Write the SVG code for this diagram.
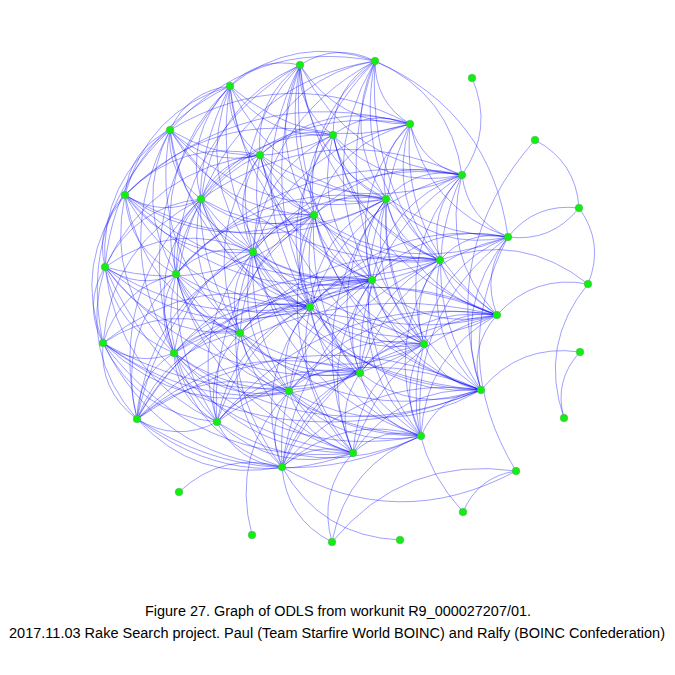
<svg xmlns="http://www.w3.org/2000/svg" width="675" height="675" viewBox="0 0 675 675">
<style>
.e{fill:none;stroke:#0000ff;stroke-opacity:0.47;stroke-width:0.8;vector-effect:non-scaling-stroke}
.n{fill:#11ee11;stroke:#55aa55;stroke-width:0.5}
.cap{font-family:"Liberation Sans Narrow","Liberation Sans",Arial,sans-serif;font-size:14px;fill:#000;text-anchor:start}
</style>
<rect width="675" height="675" fill="#fff"/>
<g id="edges">
<path class="e" d="M0 0Q.5 .28 1 0" transform="matrix(-75,4,-4,-75,375,61)"/>
<path class="e" d="M0 0Q.5 .28 1 0" transform="matrix(-70,21,-21,-70,300,65)"/>
<path class="e" d="M0 0Q.5 .28 1 0" transform="matrix(33,70,-70,33,300,65)"/>
<path class="e" d="M0 0Q.5 .28 1 0" transform="matrix(-40,90,-90,-40,300,65)"/>
<path class="e" d="M0 0Q.5 .28 1 0" transform="matrix(-99,134,-134,-99,300,65)"/>
<path class="e" d="M0 0Q.5 .28 1 0" transform="matrix(86,134,-134,86,300,65)"/>
<path class="e" d="M0 0Q.5 .28 1 0" transform="matrix(14,150,-150,14,300,65)"/>
<path class="e" d="M0 0Q.5 .28 1 0" transform="matrix(-47,187,-187,-47,300,65)"/>
<path class="e" d="M0 0Q.5 .28 1 0" transform="matrix(140,195,-195,140,300,65)"/>
<path class="e" d="M0 0Q.5 .28 1 0" transform="matrix(72,215,-215,72,300,65)"/>
<path class="e" d="M0 0Q.5 .28 1 0" transform="matrix(10,242,-242,10,300,65)"/>
<path class="e" d="M0 0Q.5 .28 1 0" transform="matrix(110,59,-59,110,300,65)"/>
<path class="e" d="M0 0Q.5 .28 1 0" transform="matrix(162,110,-110,162,300,65)"/>
<path class="e" d="M0 0Q.5 .28 1 0" transform="matrix(124,279,-279,124,300,65)"/>
<path class="e" d="M0 0Q.5 .28 1 0" transform="matrix(-124,209,-209,-124,300,65)"/>
<path class="e" d="M0 0Q.5 .28 1 0" transform="matrix(60,308,-308,60,300,65)"/>
<path class="e" d="M0 0Q.5 .28 1 0" transform="matrix(35,63,-63,35,375,61)"/>
<path class="e" d="M0 0Q.5 .28 1 0" transform="matrix(-42,74,-74,-42,375,61)"/>
<path class="e" d="M0 0Q.5 .28 1 0" transform="matrix(-115,94,-94,-115,375,61)"/>
<path class="e" d="M0 0Q.5 .28 1 0" transform="matrix(-87,-114,114,-87,462,175)"/>
<path class="e" d="M0 0Q.5 .28 1 0" transform="matrix(-133,-176,176,-133,508,237)"/>
<path class="e" d="M0 0Q.5 .28 1 0" transform="matrix(-174,138,-138,-174,375,61)"/>
<path class="e" d="M0 0Q.5 .28 1 0" transform="matrix(11,138,-138,11,375,61)"/>
<path class="e" d="M0 0Q.5 .28 1 0" transform="matrix(-61,154,-154,-61,375,61)"/>
<path class="e" d="M0 0Q.5 .28 1 0" transform="matrix(-122,191,-191,-122,375,61)"/>
<path class="e" d="M0 0Q.5 .28 1 0" transform="matrix(65,199,-199,65,375,61)"/>
<path class="e" d="M0 0Q.5 .28 1 0" transform="matrix(-3,219,-219,-3,375,61)"/>
<path class="e" d="M0 0Q.5 .28 1 0" transform="matrix(122,254,-254,122,375,61)"/>
<path class="e" d="M0 0Q.5 .28 1 0" transform="matrix(-145,25,-25,-145,375,61)"/>
<path class="e" d="M0 0Q.5 .28 1 0" transform="matrix(-205,69,-69,-205,375,61)"/>
<path class="e" d="M0 0Q.5 .28 1 0" transform="matrix(-65,246,-246,-65,375,61)"/>
<path class="e" d="M0 0Q.5 .28 1 0" transform="matrix(49,283,-283,49,375,61)"/>
<path class="e" d="M0 0Q.5 .28 1 0" transform="matrix(10,-97,97,10,462,175)"/>
<path class="e" d="M0 0Q.5 .28 1 0" transform="matrix(-60,44,-44,-60,230,86)"/>
<path class="e" d="M0 0Q.5 .28 1 0" transform="matrix(30,69,-69,30,230,86)"/>
<path class="e" d="M0 0Q.5 .28 1 0" transform="matrix(-29,113,-113,-29,230,86)"/>
<path class="e" d="M0 0Q.5 .28 1 0" transform="matrix(84,129,-129,84,230,86)"/>
<path class="e" d="M0 0Q.5 .28 1 0" transform="matrix(23,166,-166,23,230,86)"/>
<path class="e" d="M0 0Q.5 .28 1 0" transform="matrix(-54,188,-188,-54,230,86)"/>
<path class="e" d="M0 0Q.5 .28 1 0" transform="matrix(103,49,-49,103,230,86)"/>
<path class="e" d="M0 0Q.5 .28 1 0" transform="matrix(156,113,-113,156,230,86)"/>
<path class="e" d="M0 0Q.5 .28 1 0" transform="matrix(-105,109,-109,-105,230,86)"/>
<path class="e" d="M0 0Q.5 .28 1 0" transform="matrix(10,247,-247,10,230,86)"/>
<path class="e" d="M0 0Q.5 .28 1 0" transform="matrix(-125,181,-181,-125,230,86)"/>
<path class="e" d="M0 0Q.5 .28 1 0" transform="matrix(80,221,-221,80,230,86)"/>
<path class="e" d="M0 0Q.5 .28 1 0" transform="matrix(-56,267,-267,-56,230,86)"/>
<path class="e" d="M0 0Q.5 .28 1 0" transform="matrix(180,38,-38,180,230,86)"/>
<path class="e" d="M0 0Q.5 .28 1 0" transform="matrix(142,194,-194,142,230,86)"/>
<path class="e" d="M0 0Q.5 .28 1 0" transform="matrix(-77,11,-11,-77,410,124)"/>
<path class="e" d="M0 0Q.5 .28 1 0" transform="matrix(-150,31,-31,-150,410,124)"/>
<path class="e" d="M0 0Q.5 .28 1 0" transform="matrix(-24,75,-75,-24,410,124)"/>
<path class="e" d="M0 0Q.5 .28 1 0" transform="matrix(-96,91,-91,-96,410,124)"/>
<path class="e" d="M0 0Q.5 .28 1 0" transform="matrix(52,51,-51,52,410,124)"/>
<path class="e" d="M0 0Q.5 .28 1 0" transform="matrix(98,113,-113,98,410,124)"/>
<path class="e" d="M0 0Q.5 .28 1 0" transform="matrix(30,136,-136,30,410,124)"/>
<path class="e" d="M0 0Q.5 .28 1 0" transform="matrix(-38,156,-156,-38,410,124)"/>
<path class="e" d="M0 0Q.5 .28 1 0" transform="matrix(-209,75,-75,-209,410,124)"/>
<path class="e" d="M0 0Q.5 .28 1 0" transform="matrix(-157,128,-128,-157,410,124)"/>
<path class="e" d="M0 0Q.5 .28 1 0" transform="matrix(87,191,-191,87,410,124)"/>
<path class="e" d="M0 0Q.5 .28 1 0" transform="matrix(-240,6,-6,-240,410,124)"/>
<path class="e" d="M0 0Q.5 .28 1 0" transform="matrix(-285,71,-71,-285,410,124)"/>
<path class="e" d="M0 0Q.5 .28 1 0" transform="matrix(14,220,-220,14,410,124)"/>
<path class="e" d="M0 0Q.5 .28 1 0" transform="matrix(-45,65,-65,-45,170,130)"/>
<path class="e" d="M0 0Q.5 .28 1 0" transform="matrix(90,25,-25,90,170,130)"/>
<path class="e" d="M0 0Q.5 .28 1 0" transform="matrix(31,69,-69,31,170,130)"/>
<path class="e" d="M0 0Q.5 .28 1 0" transform="matrix(83,122,-122,83,170,130)"/>
<path class="e" d="M0 0Q.5 .28 1 0" transform="matrix(-65,137,-137,-65,170,130)"/>
<path class="e" d="M0 0Q.5 .28 1 0" transform="matrix(6,144,-144,6,170,130)"/>
<path class="e" d="M0 0Q.5 .28 1 0" transform="matrix(70,203,-203,70,170,130)"/>
<path class="e" d="M0 0Q.5 .28 1 0" transform="matrix(144,85,-85,144,170,130)"/>
<path class="e" d="M0 0Q.5 .28 1 0" transform="matrix(163,5,-5,163,170,130)"/>
<path class="e" d="M0 0Q.5 .28 1 0" transform="matrix(4,223,-223,4,170,130)"/>
<path class="e" d="M0 0Q.5 .28 1 0" transform="matrix(-67,213,-213,-67,170,130)"/>
<path class="e" d="M0 0Q.5 .28 1 0" transform="matrix(216,69,-69,216,170,130)"/>
<path class="e" d="M0 0Q.5 .28 1 0" transform="matrix(140,177,-177,140,170,130)"/>
<path class="e" d="M0 0Q.5 .28 1 0" transform="matrix(270,130,-130,270,170,130)"/>
<path class="e" d="M0 0Q.5 .28 1 0" transform="matrix(-73,20,-20,-73,333,135)"/>
<path class="e" d="M0 0Q.5 .28 1 0" transform="matrix(53,64,-64,53,333,135)"/>
<path class="e" d="M0 0Q.5 .28 1 0" transform="matrix(-19,80,-80,-19,333,135)"/>
<path class="e" d="M0 0Q.5 .28 1 0" transform="matrix(129,40,-40,129,333,135)"/>
<path class="e" d="M0 0Q.5 .28 1 0" transform="matrix(-132,64,-64,-132,333,135)"/>
<path class="e" d="M0 0Q.5 .28 1 0" transform="matrix(-80,117,-117,-80,333,135)"/>
<path class="e" d="M0 0Q.5 .28 1 0" transform="matrix(107,125,-125,107,333,135)"/>
<path class="e" d="M0 0Q.5 .28 1 0" transform="matrix(39,145,-145,39,333,135)"/>
<path class="e" d="M0 0Q.5 .28 1 0" transform="matrix(175,102,-102,175,333,135)"/>
<path class="e" d="M0 0Q.5 .28 1 0" transform="matrix(-23,172,-172,-23,333,135)"/>
<path class="e" d="M0 0Q.5 .28 1 0" transform="matrix(-208,60,-60,-208,333,135)"/>
<path class="e" d="M0 0Q.5 .28 1 0" transform="matrix(164,180,-180,164,333,135)"/>
<path class="e" d="M0 0Q.5 .28 1 0" transform="matrix(-44,-68,68,-44,579,208)"/>
<path class="e" d="M0 0Q.5 .28 1 0" transform="matrix(-54,250,-250,-54,535,140)"/>
<path class="e" d="M0 0Q.5 .28 1 0" transform="matrix(-59,44,-44,-59,260,155)"/>
<path class="e" d="M0 0Q.5 .28 1 0" transform="matrix(54,60,-60,54,260,155)"/>
<path class="e" d="M0 0Q.5 .28 1 0" transform="matrix(-7,97,-97,-7,260,155)"/>
<path class="e" d="M0 0Q.5 .28 1 0" transform="matrix(-135,40,-40,-135,260,155)"/>
<path class="e" d="M0 0Q.5 .28 1 0" transform="matrix(126,44,-44,126,260,155)"/>
<path class="e" d="M0 0Q.5 .28 1 0" transform="matrix(-84,119,-119,-84,260,155)"/>
<path class="e" d="M0 0Q.5 .28 1 0" transform="matrix(50,152,-152,50,260,155)"/>
<path class="e" d="M0 0Q.5 .28 1 0" transform="matrix(180,105,-105,180,260,155)"/>
<path class="e" d="M0 0Q.5 .28 1 0" transform="matrix(112,125,-125,112,260,155)"/>
<path class="e" d="M0 0Q.5 .28 1 0" transform="matrix(-20,178,-178,-20,260,155)"/>
<path class="e" d="M0 0Q.5 .28 1 0" transform="matrix(-155,112,-112,-155,260,155)"/>
<path class="e" d="M0 0Q.5 .28 1 0" transform="matrix(202,20,-20,202,260,155)"/>
<path class="e" d="M0 0Q.5 .28 1 0" transform="matrix(221,235,-235,221,260,155)"/>
<path class="e" d="M0 0Q.5 .28 1 0" transform="matrix(-76,24,-24,-76,462,175)"/>
<path class="e" d="M0 0Q.5 .28 1 0" transform="matrix(46,62,-62,46,462,175)"/>
<path class="e" d="M0 0Q.5 .28 1 0" transform="matrix(-22,85,-85,-22,462,175)"/>
<path class="e" d="M0 0Q.5 .28 1 0" transform="matrix(-148,40,-40,-148,462,175)"/>
<path class="e" d="M0 0Q.5 .28 1 0" transform="matrix(-90,105,-105,-90,462,175)"/>
<path class="e" d="M0 0Q.5 .28 1 0" transform="matrix(35,140,-140,35,462,175)"/>
<path class="e" d="M0 0Q.5 .28 1 0" transform="matrix(-38,169,-169,-38,462,175)"/>
<path class="e" d="M0 0Q.5 .28 1 0" transform="matrix(-261,24,-24,-261,462,175)"/>
<path class="e" d="M0 0Q.5 .28 1 0" transform="matrix(-209,77,-77,-209,462,175)"/>
<path class="e" d="M0 0Q.5 .28 1 0" transform="matrix(-152,132,-132,-152,462,175)"/>
<path class="e" d="M0 0Q.5 .28 1 0" transform="matrix(19,215,-215,19,462,175)"/>
<path class="e" d="M0 0Q.5 .28 1 0" transform="matrix(-102,198,-198,-102,462,175)"/>
<path class="e" d="M0 0Q.5 .28 1 0" transform="matrix(-286,99,-99,-286,462,175)"/>
<path class="e" d="M0 0Q.5 .28 1 0" transform="matrix(-20,72,-72,-20,125,195)"/>
<path class="e" d="M0 0Q.5 .28 1 0" transform="matrix(76,4,-4,76,125,195)"/>
<path class="e" d="M0 0Q.5 .28 1 0" transform="matrix(51,79,-79,51,125,195)"/>
<path class="e" d="M0 0Q.5 .28 1 0" transform="matrix(128,57,-57,128,125,195)"/>
<path class="e" d="M0 0Q.5 .28 1 0" transform="matrix(189,20,-20,189,125,195)"/>
<path class="e" d="M0 0Q.5 .28 1 0" transform="matrix(-22,148,-148,-22,125,195)"/>
<path class="e" d="M0 0Q.5 .28 1 0" transform="matrix(49,158,-158,49,125,195)"/>
<path class="e" d="M0 0Q.5 .28 1 0" transform="matrix(115,138,-138,115,125,195)"/>
<path class="e" d="M0 0Q.5 .28 1 0" transform="matrix(261,4,-4,261,125,195)"/>
<path class="e" d="M0 0Q.5 .28 1 0" transform="matrix(185,112,-112,185,125,195)"/>
<path class="e" d="M0 0Q.5 .28 1 0" transform="matrix(247,85,-85,247,125,195)"/>
<path class="e" d="M0 0Q.5 .28 1 0" transform="matrix(315,65,-65,315,125,195)"/>
<path class="e" d="M0 0Q.5 .28 1 0" transform="matrix(52,53,-53,52,201,199)"/>
<path class="e" d="M0 0Q.5 .28 1 0" transform="matrix(-25,75,-75,-25,201,199)"/>
<path class="e" d="M0 0Q.5 .28 1 0" transform="matrix(113,16,-16,113,201,199)"/>
<path class="e" d="M0 0Q.5 .28 1 0" transform="matrix(-96,68,-68,-96,201,199)"/>
<path class="e" d="M0 0Q.5 .28 1 0" transform="matrix(39,134,-134,39,201,199)"/>
<path class="e" d="M0 0Q.5 .28 1 0" transform="matrix(185,0,0,185,201,199)"/>
<path class="e" d="M0 0Q.5 .28 1 0" transform="matrix(-27,154,-154,-27,201,199)"/>
<path class="e" d="M0 0Q.5 .28 1 0" transform="matrix(171,81,-81,171,201,199)"/>
<path class="e" d="M0 0Q.5 .28 1 0" transform="matrix(109,108,-108,109,201,199)"/>
<path class="e" d="M0 0Q.5 .28 1 0" transform="matrix(-98,144,-144,-98,201,199)"/>
<path class="e" d="M0 0Q.5 .28 1 0" transform="matrix(280,191,-191,280,201,199)"/>
<path class="e" d="M0 0Q.5 .28 1 0" transform="matrix(-64,220,-220,-64,201,199)"/>
<path class="e" d="M0 0Q.5 .28 1 0" transform="matrix(16,223,-223,16,201,199)"/>
<path class="e" d="M0 0Q.5 .28 1 0" transform="matrix(-72,16,-16,-72,386,199)"/>
<path class="e" d="M0 0Q.5 .28 1 0" transform="matrix(54,61,-61,54,386,199)"/>
<path class="e" d="M0 0Q.5 .28 1 0" transform="matrix(-14,81,-81,-14,386,199)"/>
<path class="e" d="M0 0Q.5 .28 1 0" transform="matrix(122,38,-38,122,386,199)"/>
<path class="e" d="M0 0Q.5 .28 1 0" transform="matrix(-133,53,-53,-133,386,199)"/>
<path class="e" d="M0 0Q.5 .28 1 0" transform="matrix(111,116,-116,111,386,199)"/>
<path class="e" d="M0 0Q.5 .28 1 0" transform="matrix(-76,108,-108,-76,386,199)"/>
<path class="e" d="M0 0Q.5 .28 1 0" transform="matrix(38,145,-145,38,386,199)"/>
<path class="e" d="M0 0Q.5 .28 1 0" transform="matrix(-210,75,-75,-210,386,199)"/>
<path class="e" d="M0 0Q.5 .28 1 0" transform="matrix(-26,174,-174,-26,386,199)"/>
<path class="e" d="M0 0Q.5 .28 1 0" transform="matrix(95,191,-191,95,386,199)"/>
<path class="e" d="M0 0Q.5 .28 1 0" transform="matrix(35,237,-237,35,386,199)"/>
<path class="e" d="M0 0Q.5 .28 1 0" transform="matrix(-33,254,-254,-33,386,199)"/>
<path class="e" d="M0 0Q.5 .28 1 0" transform="matrix(-61,37,-37,-61,314,215)"/>
<path class="e" d="M0 0Q.5 .28 1 0" transform="matrix(58,65,-65,58,314,215)"/>
<path class="e" d="M0 0Q.5 .28 1 0" transform="matrix(126,45,-45,126,314,215)"/>
<path class="e" d="M0 0Q.5 .28 1 0" transform="matrix(-4,92,-92,-4,314,215)"/>
<path class="e" d="M0 0Q.5 .28 1 0" transform="matrix(-138,59,-59,-138,314,215)"/>
<path class="e" d="M0 0Q.5 .28 1 0" transform="matrix(-74,118,-118,-74,314,215)"/>
<path class="e" d="M0 0Q.5 .28 1 0" transform="matrix(110,129,-129,110,314,215)"/>
<path class="e" d="M0 0Q.5 .28 1 0" transform="matrix(46,158,-158,46,314,215)"/>
<path class="e" d="M0 0Q.5 .28 1 0" transform="matrix(194,22,-22,194,314,215)"/>
<path class="e" d="M0 0Q.5 .28 1 0" transform="matrix(167,175,-175,167,314,215)"/>
<path class="e" d="M0 0Q.5 .28 1 0" transform="matrix(107,221,-221,107,314,215)"/>
<path class="e" d="M0 0Q.5 .28 1 0" transform="matrix(-177,204,-204,-177,314,215)"/>
<path class="e" d="M0 0Q.5 .28 1 0" transform="matrix(-97,207,-207,-97,314,215)"/>
<path class="e" d="M0 0Q.5 .28 1 0" transform="matrix(39,238,-238,39,314,215)"/>
<path class="e" d="M0 0Q.5 .28 1 0" transform="matrix(-71,29,-29,-71,579,208)"/>
<path class="e" d="M0 0Q.5 .28 1 0" transform="matrix(71,-29,29,71,508,237)"/>
<path class="e" d="M0 0Q.5 .28 1 0" transform="matrix(-9,-76,76,-9,588,284)"/>
<path class="e" d="M0 0Q.5 .28 1 0" transform="matrix(-68,23,-23,-68,508,237)"/>
<path class="e" d="M0 0Q.5 .28 1 0" transform="matrix(-11,78,-78,-11,508,237)"/>
<path class="e" d="M0 0Q.5 .28 1 0" transform="matrix(-136,43,-43,-136,508,237)"/>
<path class="e" d="M0 0Q.5 .28 1 0" transform="matrix(-84,107,-107,-84,508,237)"/>
<path class="e" d="M0 0Q.5 .28 1 0" transform="matrix(-27,153,-153,-27,508,237)"/>
<path class="e" d="M0 0Q.5 .28 1 0" transform="matrix(8,234,-234,8,508,237)"/>
<path class="e" d="M0 0Q.5 .28 1 0" transform="matrix(-148,136,-136,-148,508,237)"/>
<path class="e" d="M0 0Q.5 .28 1 0" transform="matrix(-198,70,-70,-198,508,237)"/>
<path class="e" d="M0 0Q.5 .28 1 0" transform="matrix(-87,199,-199,-87,508,237)"/>
<path class="e" d="M0 0Q.5 .28 1 0" transform="matrix(-77,22,-22,-77,253,252)"/>
<path class="e" d="M0 0Q.5 .28 1 0" transform="matrix(57,55,-55,57,253,252)"/>
<path class="e" d="M0 0Q.5 .28 1 0" transform="matrix(-13,81,-81,-13,253,252)"/>
<path class="e" d="M0 0Q.5 .28 1 0" transform="matrix(119,28,-28,119,253,252)"/>
<path class="e" d="M0 0Q.5 .28 1 0" transform="matrix(-148,15,-15,-148,253,252)"/>
<path class="e" d="M0 0Q.5 .28 1 0" transform="matrix(-79,101,-101,-79,253,252)"/>
<path class="e" d="M0 0Q.5 .28 1 0" transform="matrix(187,8,-8,187,253,252)"/>
<path class="e" d="M0 0Q.5 .28 1 0" transform="matrix(107,121,-121,107,253,252)"/>
<path class="e" d="M0 0Q.5 .28 1 0" transform="matrix(36,139,-139,36,253,252)"/>
<path class="e" d="M0 0Q.5 .28 1 0" transform="matrix(244,63,-63,244,253,252)"/>
<path class="e" d="M0 0Q.5 .28 1 0" transform="matrix(171,92,-92,171,253,252)"/>
<path class="e" d="M0 0Q.5 .28 1 0" transform="matrix(228,138,-138,228,253,252)"/>
<path class="e" d="M0 0Q.5 .28 1 0" transform="matrix(29,215,-215,29,253,252)"/>
<path class="e" d="M0 0Q.5 .28 1 0" transform="matrix(168,184,-184,168,253,252)"/>
<path class="e" d="M0 0Q.5 .28 1 0" transform="matrix(-116,167,-167,-116,253,252)"/>
<path class="e" d="M0 0Q.5 .28 1 0" transform="matrix(-36,170,-170,-36,253,252)"/>
<path class="e" d="M0 0Q.5 .28 1 0" transform="matrix(100,201,-201,100,253,252)"/>
<path class="e" d="M0 0Q.5 .28 1 0" transform="matrix(-68,20,-20,-68,440,260)"/>
<path class="e" d="M0 0Q.5 .28 1 0" transform="matrix(57,55,-55,57,440,260)"/>
<path class="e" d="M0 0Q.5 .28 1 0" transform="matrix(-16,84,-84,-16,440,260)"/>
<path class="e" d="M0 0Q.5 .28 1 0" transform="matrix(-130,47,-47,-130,440,260)"/>
<path class="e" d="M0 0Q.5 .28 1 0" transform="matrix(-80,113,-113,-80,440,260)"/>
<path class="e" d="M0 0Q.5 .28 1 0" transform="matrix(41,130,-130,41,440,260)"/>
<path class="e" d="M0 0Q.5 .28 1 0" transform="matrix(-148,-24,24,-148,588,284)"/>
<path class="e" d="M0 0Q.5 .28 1 0" transform="matrix(-19,176,-176,-19,440,260)"/>
<path class="e" d="M0 0Q.5 .28 1 0" transform="matrix(-200,73,-73,-200,440,260)"/>
<path class="e" d="M0 0Q.5 .28 1 0" transform="matrix(-158,207,-207,-158,440,260)"/>
<path class="e" d="M0 0Q.5 .28 1 0" transform="matrix(-2,76,-76,-2,105,267)"/>
<path class="e" d="M0 0Q.5 .28 1 0" transform="matrix(71,7,-7,71,105,267)"/>
<path class="e" d="M0 0Q.5 .28 1 0" transform="matrix(135,66,-66,135,105,267)"/>
<path class="e" d="M0 0Q.5 .28 1 0" transform="matrix(69,86,-86,69,105,267)"/>
<path class="e" d="M0 0Q.5 .28 1 0" transform="matrix(205,40,-40,205,105,267)"/>
<path class="e" d="M0 0Q.5 .28 1 0" transform="matrix(267,13,-13,267,105,267)"/>
<path class="e" d="M0 0Q.5 .28 1 0" transform="matrix(32,152,-152,32,105,267)"/>
<path class="e" d="M0 0Q.5 .28 1 0" transform="matrix(255,106,-106,255,105,267)"/>
<path class="e" d="M0 0Q.5 .28 1 0" transform="matrix(209,-52,52,209,105,267)"/>
<path class="e" d="M0 0Q.5 .28 1 0" transform="matrix(112,155,-155,112,105,267)"/>
<path class="e" d="M0 0Q.5 .28 1 0" transform="matrix(248,186,-186,248,105,267)"/>
<path class="e" d="M0 0Q.5 .28 1 0" transform="matrix(64,59,-59,64,176,274)"/>
<path class="e" d="M0 0Q.5 .28 1 0" transform="matrix(-2,79,-79,-2,176,274)"/>
<path class="e" d="M0 0Q.5 .28 1 0" transform="matrix(-73,69,-69,-73,176,274)"/>
<path class="e" d="M0 0Q.5 .28 1 0" transform="matrix(134,33,-33,134,176,274)"/>
<path class="e" d="M0 0Q.5 .28 1 0" transform="matrix(196,6,-6,196,176,274)"/>
<path class="e" d="M0 0Q.5 .28 1 0" transform="matrix(113,117,-117,113,176,274)"/>
<path class="e" d="M0 0Q.5 .28 1 0" transform="matrix(-39,145,-145,-39,176,274)"/>
<path class="e" d="M0 0Q.5 .28 1 0" transform="matrix(41,148,-148,41,176,274)"/>
<path class="e" d="M0 0Q.5 .28 1 0" transform="matrix(184,99,-99,184,176,274)"/>
<path class="e" d="M0 0Q.5 .28 1 0" transform="matrix(245,162,-162,245,176,274)"/>
<path class="e" d="M0 0Q.5 .28 1 0" transform="matrix(177,179,-179,177,176,274)"/>
<path class="e" d="M0 0Q.5 .28 1 0" transform="matrix(-62,27,-27,-62,372,280)"/>
<path class="e" d="M0 0Q.5 .28 1 0" transform="matrix(52,64,-64,52,372,280)"/>
<path class="e" d="M0 0Q.5 .28 1 0" transform="matrix(125,35,-35,125,372,280)"/>
<path class="e" d="M0 0Q.5 .28 1 0" transform="matrix(-12,93,-93,-12,372,280)"/>
<path class="e" d="M0 0Q.5 .28 1 0" transform="matrix(-132,53,-53,-132,372,280)"/>
<path class="e" d="M0 0Q.5 .28 1 0" transform="matrix(-83,111,-111,-83,372,280)"/>
<path class="e" d="M0 0Q.5 .28 1 0" transform="matrix(109,110,-110,109,372,280)"/>
<path class="e" d="M0 0Q.5 .28 1 0" transform="matrix(49,156,-156,49,372,280)"/>
<path class="e" d="M0 0Q.5 .28 1 0" transform="matrix(-19,173,-173,-19,372,280)"/>
<path class="e" d="M0 0Q.5 .28 1 0" transform="matrix(-198,73,-73,-198,372,280)"/>
<path class="e" d="M0 0Q.5 .28 1 0" transform="matrix(-90,187,-187,-90,372,280)"/>
<path class="e" d="M0 0Q.5 .28 1 0" transform="matrix(-235,139,-139,-235,372,280)"/>
<path class="e" d="M0 0Q.5 .28 1 0" transform="matrix(-155,142,-142,-155,372,280)"/>
<path class="e" d="M0 0Q.5 .28 1 0" transform="matrix(-91,31,-31,-91,588,284)"/>
<path class="e" d="M0 0Q.5 .28 1 0" transform="matrix(-24,134,-134,-24,588,284)"/>
<path class="e" d="M0 0Q.5 .28 1 0" transform="matrix(-70,26,-26,-70,310,307)"/>
<path class="e" d="M0 0Q.5 .28 1 0" transform="matrix(114,37,-37,114,310,307)"/>
<path class="e" d="M0 0Q.5 .28 1 0" transform="matrix(50,66,-66,50,310,307)"/>
<path class="e" d="M0 0Q.5 .28 1 0" transform="matrix(-21,84,-84,-21,310,307)"/>
<path class="e" d="M0 0Q.5 .28 1 0" transform="matrix(-136,46,-46,-136,310,307)"/>
<path class="e" d="M0 0Q.5 .28 1 0" transform="matrix(187,8,-8,187,310,307)"/>
<path class="e" d="M0 0Q.5 .28 1 0" transform="matrix(171,83,-83,171,310,307)"/>
<path class="e" d="M0 0Q.5 .28 1 0" transform="matrix(-207,36,-36,-207,310,307)"/>
<path class="e" d="M0 0Q.5 .28 1 0" transform="matrix(111,129,-129,111,310,307)"/>
<path class="e" d="M0 0Q.5 .28 1 0" transform="matrix(-93,115,-115,-93,310,307)"/>
<path class="e" d="M0 0Q.5 .28 1 0" transform="matrix(43,146,-146,43,310,307)"/>
<path class="e" d="M0 0Q.5 .28 1 0" transform="matrix(-173,112,-112,-173,310,307)"/>
<path class="e" d="M0 0Q.5 .28 1 0" transform="matrix(-28,160,-160,-28,310,307)"/>
<path class="e" d="M0 0Q.5 .28 1 0" transform="matrix(-73,29,-29,-73,497,315)"/>
<path class="e" d="M0 0Q.5 .28 1 0" transform="matrix(-16,75,-75,-16,497,315)"/>
<path class="e" d="M0 0Q.5 .28 1 0" transform="matrix(-137,58,-58,-137,497,315)"/>
<path class="e" d="M0 0Q.5 .28 1 0" transform="matrix(-76,121,-121,-76,497,315)"/>
<path class="e" d="M0 0Q.5 .28 1 0" transform="matrix(-257,18,-18,-257,497,315)"/>
<path class="e" d="M0 0Q.5 .28 1 0" transform="matrix(-208,76,-76,-208,497,315)"/>
<path class="e" d="M0 0Q.5 .28 1 0" transform="matrix(-323,38,-38,-323,497,315)"/>
<path class="e" d="M0 0Q.5 .28 1 0" transform="matrix(-144,138,-138,-144,497,315)"/>
<path class="e" d="M0 0Q.5 .28 1 0" transform="matrix(-215,152,-152,-215,497,315)"/>
<path class="e" d="M0 0Q.5 .28 1 0" transform="matrix(-360,104,-104,-360,497,315)"/>
<path class="e" d="M0 0Q.5 .28 1 0" transform="matrix(-280,107,-107,-280,497,315)"/>
<path class="e" d="M0 0Q.5 .28 1 0" transform="matrix(-66,20,-20,-66,240,333)"/>
<path class="e" d="M0 0Q.5 .28 1 0" transform="matrix(49,58,-58,49,240,333)"/>
<path class="e" d="M0 0Q.5 .28 1 0" transform="matrix(120,40,-40,120,240,333)"/>
<path class="e" d="M0 0Q.5 .28 1 0" transform="matrix(-137,10,-10,-137,240,333)"/>
<path class="e" d="M0 0Q.5 .28 1 0" transform="matrix(-23,89,-89,-23,240,333)"/>
<path class="e" d="M0 0Q.5 .28 1 0" transform="matrix(-103,86,-86,-103,240,333)"/>
<path class="e" d="M0 0Q.5 .28 1 0" transform="matrix(184,11,-11,184,240,333)"/>
<path class="e" d="M0 0Q.5 .28 1 0" transform="matrix(113,120,-120,113,240,333)"/>
<path class="e" d="M0 0Q.5 .28 1 0" transform="matrix(42,134,-134,42,240,333)"/>
<path class="e" d="M0 0Q.5 .28 1 0" transform="matrix(241,57,-57,241,240,333)"/>
<path class="e" d="M0 0Q.5 .28 1 0" transform="matrix(181,103,-103,181,240,333)"/>
<path class="e" d="M0 0Q.5 .28 1 0" transform="matrix(34,76,-76,34,103,343)"/>
<path class="e" d="M0 0Q.5 .28 1 0" transform="matrix(71,10,-10,71,103,343)"/>
<path class="e" d="M0 0Q.5 .28 1 0" transform="matrix(186,48,-48,186,103,343)"/>
<path class="e" d="M0 0Q.5 .28 1 0" transform="matrix(257,30,-30,257,103,343)"/>
<path class="e" d="M0 0Q.5 .28 1 0" transform="matrix(114,79,-79,114,103,343)"/>
<path class="e" d="M0 0Q.5 .28 1 0" transform="matrix(321,1,-1,321,103,343)"/>
<path class="e" d="M0 0Q.5 .28 1 0" transform="matrix(179,124,-124,179,103,343)"/>
<path class="e" d="M0 0Q.5 .28 1 0" transform="matrix(250,110,-110,250,103,343)"/>
<path class="e" d="M0 0Q.5 .28 1 0" transform="matrix(378,47,-47,378,103,343)"/>
<path class="e" d="M0 0Q.5 .28 1 0" transform="matrix(-64,29,-29,-64,424,344)"/>
<path class="e" d="M0 0Q.5 .28 1 0" transform="matrix(57,46,-46,57,424,344)"/>
<path class="e" d="M0 0Q.5 .28 1 0" transform="matrix(-3,92,-92,-3,424,344)"/>
<path class="e" d="M0 0Q.5 .28 1 0" transform="matrix(-135,47,-47,-135,424,344)"/>
<path class="e" d="M0 0Q.5 .28 1 0" transform="matrix(-71,109,-109,-71,424,344)"/>
<path class="e" d="M0 0Q.5 .28 1 0" transform="matrix(-250,9,-9,-250,424,344)"/>
<path class="e" d="M0 0Q.5 .28 1 0" transform="matrix(-142,123,-123,-142,424,344)"/>
<path class="e" d="M0 0Q.5 .28 1 0" transform="matrix(39,168,-168,39,424,344)"/>
<path class="e" d="M0 0Q.5 .28 1 0" transform="matrix(115,38,-38,115,174,353)"/>
<path class="e" d="M0 0Q.5 .28 1 0" transform="matrix(-37,66,-66,-37,174,353)"/>
<path class="e" d="M0 0Q.5 .28 1 0" transform="matrix(43,69,-69,43,174,353)"/>
<path class="e" d="M0 0Q.5 .28 1 0" transform="matrix(186,20,-20,186,174,353)"/>
<path class="e" d="M0 0Q.5 .28 1 0" transform="matrix(108,114,-114,108,174,353)"/>
<path class="e" d="M0 0Q.5 .28 1 0" transform="matrix(179,100,-100,179,174,353)"/>
<path class="e" d="M0 0Q.5 .28 1 0" transform="matrix(247,83,-83,247,174,353)"/>
<path class="e" d="M0 0Q.5 .28 1 0" transform="matrix(307,37,-37,307,174,353)"/>
<path class="e" d="M0 0Q.5 .28 1 0" transform="matrix(-16,66,-66,-16,580,352)"/>
<path class="e" d="M0 0Q.5 .28 1 0" transform="matrix(-99,38,-38,-99,580,352)"/>
<path class="e" d="M0 0Q.5 .28 1 0" transform="matrix(-71,18,-18,-71,360,373)"/>
<path class="e" d="M0 0Q.5 .28 1 0" transform="matrix(121,17,-17,121,360,373)"/>
<path class="e" d="M0 0Q.5 .28 1 0" transform="matrix(61,63,-63,61,360,373)"/>
<path class="e" d="M0 0Q.5 .28 1 0" transform="matrix(-7,80,-80,-7,360,373)"/>
<path class="e" d="M0 0Q.5 .28 1 0" transform="matrix(-143,49,-49,-143,360,373)"/>
<path class="e" d="M0 0Q.5 .28 1 0" transform="matrix(-78,94,-94,-78,360,373)"/>
<path class="e" d="M0 0Q.5 .28 1 0" transform="matrix(-223,46,-46,-223,360,373)"/>
<path class="e" d="M0 0Q.5 .28 1 0" transform="matrix(-72,31,-31,-72,289,391)"/>
<path class="e" d="M0 0Q.5 .28 1 0" transform="matrix(64,62,-62,64,289,391)"/>
<path class="e" d="M0 0Q.5 .28 1 0" transform="matrix(-7,76,-76,-7,289,391)"/>
<path class="e" d="M0 0Q.5 .28 1 0" transform="matrix(-152,28,-28,-152,289,391)"/>
<path class="e" d="M0 0Q.5 .28 1 0" transform="matrix(132,45,-45,132,289,391)"/>
<path class="e" d="M0 0Q.5 .28 1 0" transform="matrix(192,-1,1,192,289,391)"/>
<path class="e" d="M0 0Q.5 .28 1 0" transform="matrix(-37,144,-144,-37,289,391)"/>
<path class="e" d="M0 0Q.5 .28 1 0" transform="matrix(-60,46,-46,-60,481,390)"/>
<path class="e" d="M0 0Q.5 .28 1 0" transform="matrix(-128,63,-63,-128,481,390)"/>
<path class="e" d="M0 0Q.5 .28 1 0" transform="matrix(-199,77,-77,-199,481,390)"/>
<path class="e" d="M0 0Q.5 .28 1 0" transform="matrix(-264,32,-32,-264,481,390)"/>
<path class="e" d="M0 0Q.5 .28 1 0" transform="matrix(-344,29,-29,-344,481,390)"/>
<path class="e" d="M0 0Q.5 .28 1 0" transform="matrix(145,48,-48,145,137,419)"/>
<path class="e" d="M0 0Q.5 .28 1 0" transform="matrix(80,3,-3,80,137,419)"/>
<path class="e" d="M0 0Q.5 .28 1 0" transform="matrix(284,17,-17,284,137,419)"/>
<path class="e" d="M0 0Q.5 .28 1 0" transform="matrix(216,34,-34,216,137,419)"/>
<path class="e" d="M0 0Q.5 .28 1 0" transform="matrix(65,45,-45,65,217,422)"/>
<path class="e" d="M0 0Q.5 .28 1 0" transform="matrix(136,31,-31,136,217,422)"/>
<path class="e" d="M0 0Q.5 .28 1 0" transform="matrix(204,14,-14,204,217,422)"/>
<path class="e" d="M0 0Q.5 .28 1 0" transform="matrix(-68,17,-17,-68,421,436)"/>
<path class="e" d="M0 0Q.5 .28 1 0" transform="matrix(-139,31,-31,-139,421,436)"/>
<path class="e" d="M0 0Q.5 .28 1 0" transform="matrix(-89,106,-106,-89,421,436)"/>
<path class="e" d="M0 0Q.5 .28 1 0" transform="matrix(-71,14,-14,-71,353,453)"/>
<path class="e" d="M0 0Q.5 .28 1 0" transform="matrix(-21,89,-89,-21,353,453)"/>
<path class="e" d="M0 0Q.5 .28 1 0" transform="matrix(50,75,-75,50,282,467)"/>
<path class="e" d="M0 0Q.5 .28 1 0" transform="matrix(118,73,-73,118,282,467)"/>
<path class="e" d="M0 0Q.5 .28 1 0" transform="matrix(234,4,-4,234,282,467)"/>
<path class="e" d="M0 0Q.5 .28 1 0" transform="matrix(-103,25,-25,-103,282,467)"/>
<path class="e" d="M0 0Q.5 .28 1 0" transform="matrix(-184,71,-71,-184,516,471)"/>
<path class="e" d="M0 0Q.5 .28 1 0" transform="matrix(-53,41,-41,-53,516,471)"/>
</g>
<g id="nodes">
<g id="n1"><circle class="n" cx="300" cy="65" r="3.8"/></g>
<g id="n2"><circle class="n" cx="375" cy="61" r="3.8"/></g>
<g id="n3"><circle class="n" cx="472" cy="78" r="3.8"/></g>
<g id="n4"><circle class="n" cx="230" cy="86" r="3.8"/></g>
<g id="n5"><circle class="n" cx="410" cy="124" r="3.8"/></g>
<g id="n6"><circle class="n" cx="170" cy="130" r="3.8"/></g>
<g id="n7"><circle class="n" cx="333" cy="135" r="3.8"/></g>
<g id="n8"><circle class="n" cx="535" cy="140" r="3.8"/></g>
<g id="n9"><circle class="n" cx="260" cy="155" r="3.8"/></g>
<g id="n10"><circle class="n" cx="462" cy="175" r="3.8"/></g>
<g id="n11"><circle class="n" cx="125" cy="195" r="3.8"/></g>
<g id="n12"><circle class="n" cx="201" cy="199" r="3.8"/></g>
<g id="n13"><circle class="n" cx="386" cy="199" r="3.8"/></g>
<g id="n14"><circle class="n" cx="314" cy="215" r="3.8"/></g>
<g id="n15"><circle class="n" cx="579" cy="208" r="3.8"/></g>
<g id="n16"><circle class="n" cx="508" cy="237" r="3.8"/></g>
<g id="n17"><circle class="n" cx="253" cy="252" r="3.8"/></g>
<g id="n18"><circle class="n" cx="440" cy="260" r="3.8"/></g>
<g id="n19"><circle class="n" cx="105" cy="267" r="3.8"/></g>
<g id="n20"><circle class="n" cx="176" cy="274" r="3.8"/></g>
<g id="n21"><circle class="n" cx="372" cy="280" r="3.8"/></g>
<g id="n22"><circle class="n" cx="588" cy="284" r="3.8"/></g>
<g id="n23"><circle class="n" cx="310" cy="307" r="3.8"/></g>
<g id="n24"><circle class="n" cx="497" cy="315" r="3.8"/></g>
<g id="n25"><circle class="n" cx="240" cy="333" r="3.8"/></g>
<g id="n26"><circle class="n" cx="103" cy="343" r="3.8"/></g>
<g id="n27"><circle class="n" cx="424" cy="344" r="3.8"/></g>
<g id="n28"><circle class="n" cx="174" cy="353" r="3.8"/></g>
<g id="n29"><circle class="n" cx="580" cy="352" r="3.8"/></g>
<g id="n30"><circle class="n" cx="360" cy="373" r="3.8"/></g>
<g id="n31"><circle class="n" cx="289" cy="391" r="3.8"/></g>
<g id="n32"><circle class="n" cx="481" cy="390" r="3.8"/></g>
<g id="n33"><circle class="n" cx="137" cy="419" r="3.8"/></g>
<g id="n34"><circle class="n" cx="564" cy="418" r="3.8"/></g>
<g id="n35"><circle class="n" cx="217" cy="422" r="3.8"/></g>
<g id="n36"><circle class="n" cx="421" cy="436" r="3.8"/></g>
<g id="n37"><circle class="n" cx="353" cy="453" r="3.8"/></g>
<g id="n38"><circle class="n" cx="282" cy="467" r="3.8"/></g>
<g id="n39"><circle class="n" cx="516" cy="471" r="3.8"/></g>
<g id="n40"><circle class="n" cx="179" cy="492" r="3.8"/></g>
<g id="n41"><circle class="n" cx="463" cy="512" r="3.8"/></g>
<g id="n42"><circle class="n" cx="252" cy="535" r="3.8"/></g>
<g id="n43"><circle class="n" cx="332" cy="542" r="3.8"/></g>
<g id="n44"><circle class="n" cx="400" cy="540" r="3.8"/></g>
</g>
<g id="caption">
<text class="cap" x="145" y="616" textLength="386" lengthAdjust="spacingAndGlyphs">Figure 27. Graph of ODLS from workunit R9_000027207/01.</text>
<text class="cap" x="9" y="638" textLength="656" lengthAdjust="spacingAndGlyphs">2017.11.03 Rake Search project. Paul (Team Starfire World BOINC) and Ralfy (BOINC Confederation)</text>
</g>
</svg>
